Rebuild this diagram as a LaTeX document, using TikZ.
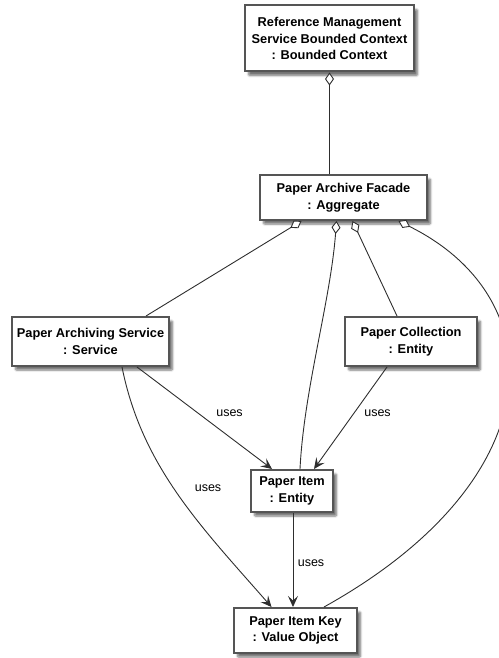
\documentclass[tikz,border=0pt]{standalone}
\usepackage{fontspec}
\setmainfont{Liberation Sans}
\usetikzlibrary{arrows.meta,shadows.blur}

\definecolor{boxline}{HTML}{555555}
\definecolor{wire}{HTML}{2E2E2E}

\tikzset{
  obj/.style={draw=boxline, line width=2pt, fill=white, align=center,
    inner sep=0pt, font=\bfseries\fontsize{12.8}{16.5}\selectfont,
    blur shadow={shadow xshift=3.5pt, shadow yshift=-4pt, shadow blur steps=6,
      shadow blur extra rounding=1pt, shadow opacity=55}},
  agg/.style={draw=wire, line width=0.9pt,
    {Diamond[fill=white, length=13pt, width=9pt, line width=0.9pt]}-},
  uses/.style={draw=wire, line width=0.9pt,
    -{Stealth[length=11pt, width=10pt, inset=4.5pt, line width=0.9pt]}},
  lbl/.style={font=\fontsize{12.5}{14}\selectfont, inner sep=1pt}
}

\begin{document}
\begin{tikzpicture}[x=1pt, y=-1pt]
  \useasboundingbox (0,0) rectangle (498,658);

  % objects of the bounded context
  \node[obj, minimum width=169pt, minimum height=66pt] (ctx) at (329.5,38.5)
    {Reference Management\\Service Bounded Context\\: Bounded Context};
  \node[obj, minimum width=167pt, minimum height=45pt] (facade) at (343.5,197.5)
    {Paper Archive Facade\\: Aggregate};
  \node[obj, minimum width=157pt, minimum height=49pt] (svc) at (90.5,341.5)
    {Paper Archiving Service\\: Service};
  \node[obj, minimum width=132pt, minimum height=49pt] (coll) at (411,341.5)
    {Paper Collection\\: Entity};
  \node[obj, minimum width=82pt, minimum height=42pt] (item) at (292,491)
    {Paper Item\\: Entity};
  \node[obj, minimum width=123pt, minimum height=45pt] (key) at (295.5,630.5)
    {Paper Item Key\\: Value Object};

  % aggregation links
  \draw[agg] (ctx.south) -- (ctx.south |- facade.north);
  \draw[agg] ([xshift=-42pt]facade.south) -- ([xshift=55.5pt]svc.north);
  \draw[agg] ([xshift=-7pt]facade.south) .. controls +(-6,80) and +(4,-80) .. ([xshift=8pt]item.north);
  \draw[agg] ([xshift=9pt]facade.south) -- ([xshift=-14pt]coll.north);
  \draw[agg] ([xshift=55pt]facade.south) .. controls +(157,78) and +(230,-128) .. ([xshift=28.5pt]key.north);

  % dependencies
  \draw[uses] ([xshift=46.5pt]svc.south) -- ([xshift=-20pt]item.north)
    node[lbl, pos=0.5, xshift=25pt, yshift=5pt] {uses};
  \draw[uses] ([xshift=-24pt]coll.south) -- ([xshift=22pt]item.north)
    node[lbl, pos=0.5, xshift=27pt, yshift=5pt] {uses};
  \draw[uses] ([xshift=31.5pt]svc.south) .. controls +(20,100) and +(-70,-80) .. ([xshift=-24pt]key.north)
    node[lbl, pos=0.5, xshift=30pt, yshift=6pt] {uses};
  \draw[uses] ([xshift=1pt]item.south) -- ([xshift=1pt]item.south |- key.north)
    node[lbl, pos=0.5, xshift=18pt, yshift=-3pt] {uses};
\end{tikzpicture}
\end{document}
